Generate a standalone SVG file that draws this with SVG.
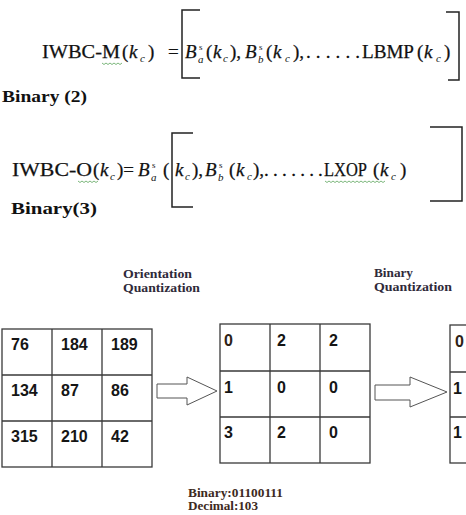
<svg xmlns="http://www.w3.org/2000/svg" width="466" height="515" viewBox="0 0 466 515">
<style>
.f{font-family:"Liberation Serif","Times New Roman",serif;font-size:19px;fill:#111;stroke:#111;stroke-width:0.25}
.i{font-style:italic}
.sb{font-family:"Liberation Serif","Times New Roman",serif;font-size:11px;font-style:italic;fill:#111}
.sp{font-family:"Liberation Serif","Times New Roman",serif;font-size:9px;fill:#111}
.bin{font-family:"Liberation Serif","Times New Roman",serif;font-size:16px;font-weight:bold;fill:#111}
.lbl{font-family:"Liberation Serif","Times New Roman",serif;font-size:12px;font-weight:bold;fill:#2f2a3a}
.dec{font-family:"Liberation Serif","Times New Roman",serif;font-size:12px;font-weight:bold;fill:#3d2a22}
.num{font-family:"Liberation Sans",Arial,sans-serif;font-size:16px;font-weight:bold;fill:#151515}
.grid{fill:#fff;stroke:#3a3a3a;stroke-width:1.3}
.gl{stroke:#3a3a3a;stroke-width:1.3}
.arrow{fill:#fff;stroke:#555;stroke-width:1}
.brk{fill:none;stroke:#222;stroke-width:1.5}
.sq{fill:none;stroke:#5aa55a;stroke-width:0.8}
</style>
<rect width="466" height="515" fill="#fff"/>

<g id="formula1">
  <text class="f" x="42" y="58" textLength="78" lengthAdjust="spacingAndGlyphs">IWBC-M</text>
  <text class="f" x="122" y="58">(</text>
  <text class="f i" x="129" y="58">k</text>
  <text class="sb" x="140" y="62">c</text>
  <text class="f" x="148" y="58">)</text>
  <text class="f" x="168" y="58">=</text>
  <path class="brk" d="M200,10 H182 V78 H200"/>
  <text class="f i" x="185" y="58">B</text>
  <text class="sp" x="199" y="50">s</text>
  <text class="sb" x="198" y="63">a</text>
  <text class="f" x="206" y="58">(</text>
  <text class="f i" x="213" y="58">k</text>
  <text class="sb" x="223" y="62">c</text>
  <text class="f" x="230" y="58">),</text>
  <text class="f i" x="245" y="58">B</text>
  <text class="sp" x="259" y="50">s</text>
  <text class="sb" x="258" y="63">b</text>
  <text class="f" x="266" y="58">(</text>
  <text class="f i" x="273" y="58">k</text>
  <text class="sb" x="285" y="62">c</text>
  <text class="f" x="293" y="58">),</text>
  <text class="f" x="306" y="58" textLength="54" lengthAdjust="spacing">......</text>
  <text class="f" x="362" y="58" textLength="52" lengthAdjust="spacingAndGlyphs">LBMP</text>
  <text class="f" x="417" y="58">(</text>
  <text class="f i" x="424" y="58">k</text>
  <text class="sb" x="436" y="62">c</text>
  <text class="f" x="444" y="58">)</text>
  <path class="brk" d="M446,12 H459 V80 H448"/>
  <path class="sq" d="M102,63 l2,1.5 l2,-1.5 l2,1.5 l2,-1.5 l2,1.5 l2,-1.5 l2,1.5 l2,-1.5 l2,1.5 l2,-1.5"/>
</g>
<g id="label-binary2">
  <text class="bin" x="2" y="102" textLength="85" lengthAdjust="spacingAndGlyphs">Binary (2)</text>
</g>

<g id="formula2">
  <text class="f" x="12" y="176" textLength="80" lengthAdjust="spacingAndGlyphs">IWBC-O</text>
  <text class="f" x="93" y="176">(</text>
  <text class="f i" x="100" y="176">k</text>
  <text class="sb" x="110" y="180">c</text>
  <text class="f" x="117" y="176">)=</text>
  <text class="f i" x="138" y="176">B</text>
  <text class="sp" x="152" y="168">s</text>
  <text class="sb" x="151" y="181">a</text>
  <text class="f" x="163" y="176">(</text>
  <path class="brk" d="M193,133 H172 V207 H193"/>
  <text class="f i" x="175" y="176">k</text>
  <text class="sb" x="185" y="180">c</text>
  <text class="f" x="192" y="176">),</text>
  <text class="f i" x="205" y="176">B</text>
  <text class="sp" x="219" y="168">s</text>
  <text class="sb" x="218" y="181">b</text>
  <text class="f" x="229" y="176">(</text>
  <text class="f i" x="236" y="176">k</text>
  <text class="sb" x="247" y="180">c</text>
  <text class="f" x="253" y="176">),</text>
  <text class="f" x="264" y="176" textLength="50" lengthAdjust="spacing">......</text>
  <text class="f" x="318" y="176">.</text>
  <text class="f" x="324" y="176" textLength="43" lengthAdjust="spacingAndGlyphs">LXOP</text>
  <text class="f" x="373" y="176">(</text>
  <text class="f i" x="380" y="176">k</text>
  <text class="sb" x="391" y="180">c</text>
  <text class="f" x="400" y="176">)</text>
  <path class="brk" d="M430,127 H462 V201 H430"/>
  <path class="sq" d="M78,181 l2,1.5 l2,-1.5 l2,1.5 l2,-1.5 l2,1.5 l2,-1.5 l2,1.5 l2,-1.5 l2,1.5 l2,-1.5"/>
  <path class="sq" d="M325,181 l2,1.5 l2,-1.5 l2,1.5 l2,-1.5 l2,1.5 l2,-1.5 l2,1.5 l2,-1.5 l2,1.5 l2,-1.5 l2,1.5 l2,-1.5 l2,1.5 l2,-1.5 l2,1.5 l2,-1.5 l2,1.5 l2,-1.5 l2,1.5 l2,-1.5 l2,1.5 l2,-1.5 l2,1.5 l2,-1.5 l2,1.5 l2,-1.5 l2,1.5 l2,-1.5 l2,1.5 l2,-1.5"/>
</g>
<g id="label-binary3">
  <text class="bin" x="11" y="214" textLength="86" lengthAdjust="spacingAndGlyphs">Binary(3)</text>
</g>

<g id="label-orientation">
  <text class="lbl" x="123" y="278" textLength="69" lengthAdjust="spacingAndGlyphs">Orientation</text>
  <text class="lbl" x="123" y="292" textLength="77" lengthAdjust="spacingAndGlyphs">Quantization</text>
</g>
<g id="label-binaryq">
  <text class="lbl" x="374" y="277" textLength="39" lengthAdjust="spacingAndGlyphs">Binary</text>
  <text class="lbl" x="374" y="291" textLength="78" lengthAdjust="spacingAndGlyphs">Quantization</text>
</g>

<g id="grid1">
  <rect class="grid" x="2" y="329" width="150" height="138"/>
  <path class="gl" d="M52,329 V467 M102,329 V467 M2,375 H152 M2,421 H152"/>
  <text class="num" x="11" y="350">76</text>
  <text class="num" x="61" y="350">184</text>
  <text class="num" x="111" y="350">189</text>
  <text class="num" x="11" y="396">134</text>
  <text class="num" x="61" y="396">87</text>
  <text class="num" x="111" y="396">86</text>
  <text class="num" x="11" y="442">315</text>
  <text class="num" x="61" y="442">210</text>
  <text class="num" x="111" y="442">42</text>
</g>
<g id="grid2">
  <rect class="grid" x="220" y="324" width="150" height="139"/>
  <path class="gl" d="M270,324 V463 M320,324 V463 M220,371 H370 M220,417 H370"/>
  <text class="num" x="224" y="346" style="fill:#2e2216">0</text>
  <text class="num" x="277" y="346">2</text>
  <text class="num" x="329" y="346">2</text>
  <text class="num" x="224" y="393">1</text>
  <text class="num" x="277" y="393">0</text>
  <text class="num" x="329" y="393">0</text>
  <text class="num" x="224" y="438">3</text>
  <text class="num" x="277" y="438">2</text>
  <text class="num" x="329" y="438">0</text>
</g>
<g id="grid3">
  <rect class="grid" x="450" y="325" width="150" height="138"/>
  <path class="gl" d="M450,372 H600 M450,417 H600"/>
  <text class="num" x="455" y="347" style="fill:#2e2216">0</text>
  <text class="num" x="453" y="394">1</text>
  <text class="num" x="453" y="438">1</text>
</g>

<g id="connectors">
  <polygon class="arrow" points="157,384 187,384 187,377 217,391 187,405 187,398 157,398"/>
  <polygon class="arrow" points="375,385 410,385 410,377 447,392 410,407 410,400 375,400"/>
</g>

<g id="label-result">
  <text class="dec" x="188" y="497" textLength="95" lengthAdjust="spacingAndGlyphs">Binary:01100111</text>
  <text class="dec" x="188" y="510" textLength="70" lengthAdjust="spacingAndGlyphs">Decimal:103</text>
</g>
</svg>
